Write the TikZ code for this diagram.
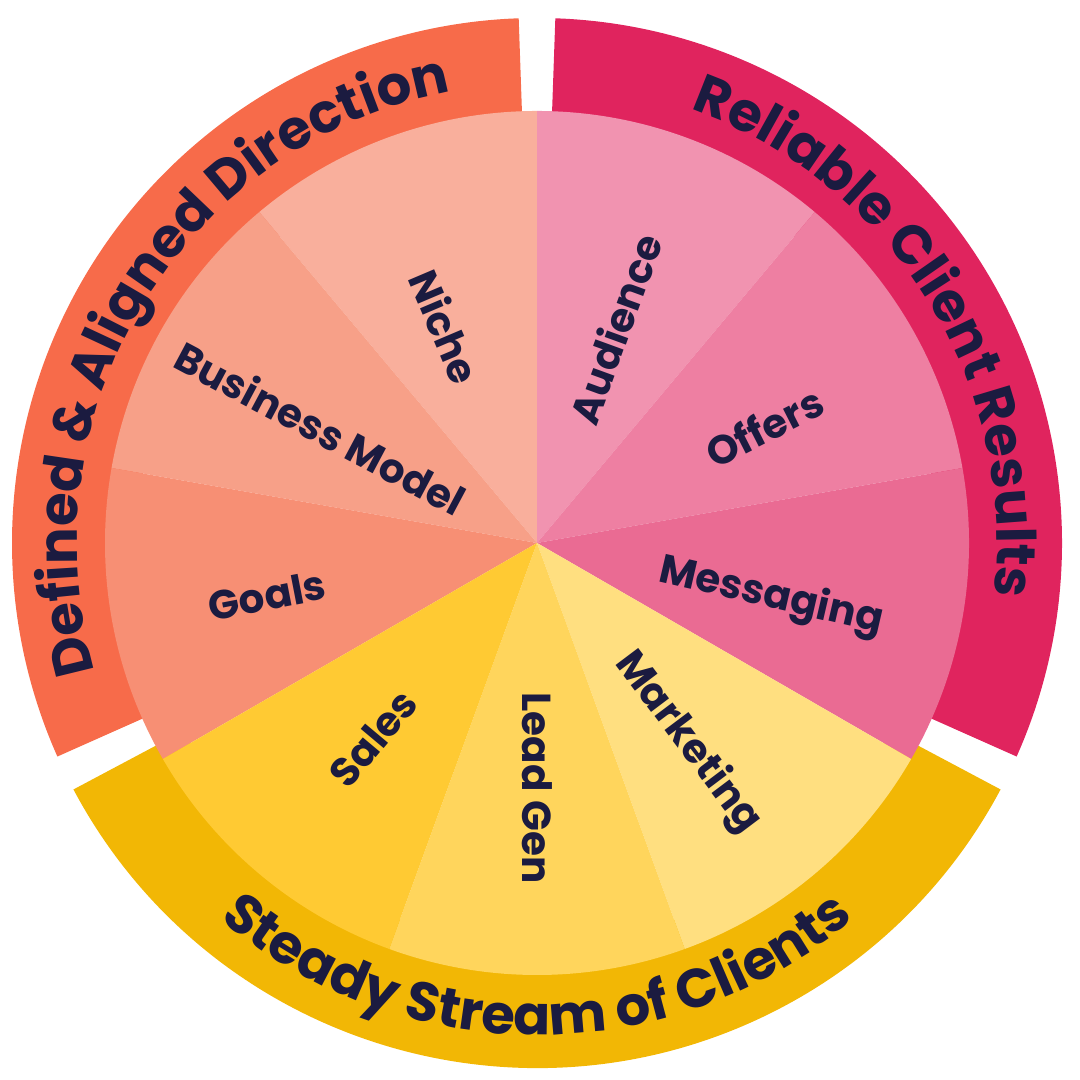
\documentclass[tikz,border=0pt]{standalone}
\usepackage{fontspec}
\setmainfont{Poppins}
\usetikzlibrary{decorations.text}
\definecolor{navy}{HTML}{1B1B40}
\definecolor{ringO}{HTML}{F76B4A}
\definecolor{ringP}{HTML}{E0245E}
\definecolor{ringY}{HTML}{F2B705}
\definecolor{secNiche}{HTML}{F9AF9C}
\definecolor{secModel}{HTML}{F7A088}
\definecolor{secGoals}{HTML}{F78F74}
\definecolor{secAudience}{HTML}{F193B0}
\definecolor{secOffers}{HTML}{EE7FA2}
\definecolor{secMessaging}{HTML}{EA6B93}
\definecolor{secMarketing}{HTML}{FFDF80}
\definecolor{secLeadgen}{HTML}{FFD55C}
\definecolor{secSales}{HTML}{FFCA33}
\tikzset{
  seclabel/.style={text=navy,font=\bfseries\fontsize{11.5}{11.5}\selectfont},
  ringtext/.style={decorate,decoration={text along path,text align=center,
     text={|\bfseries\fontsize{15.5}{15.5}\selectfont\color{navy}|#1}}}
}
\newcommand{\ringpart}[3]{% colour, start, end
  \fill[#1] (#2:400) arc[start angle=#2,end angle=#3,radius=400]
    -- (#3:525) arc[start angle=#3,end angle=#2,radius=525] -- cycle;}
\newcommand{\sector}[3]{% colour, start, end
  \fill[#1] (0,0) -- (#2:432) arc[start angle=#2,end angle=#3,radius=432] -- cycle;}
\begin{document}
\begin{tikzpicture}[x=0.01cm,y=0.01cm]
  \useasboundingbox (0,0) rectangle (1080,1080);
  \begin{scope}[shift={(537,537)}]
    % outer rings
    \ringpart{ringO}{92}{204}
    \ringpart{ringP}{88}{-24}
    \ringpart{ringY}{-28}{-152}
    % wheel
    \sector{secNiche}{90}{130}
    \sector{secModel}{130}{170}
    \sector{secGoals}{170}{210}
    \sector{secAudience}{50}{90}
    \sector{secOffers}{10}{50}
    \sector{secMessaging}{-30}{10}
    \sector{secMarketing}{-70}{-30}
    \sector{secLeadgen}{-110}{-70}
    \sector{secSales}{-150}{-110}
    % sector labels
    \node[seclabel,rotate=-67] (niche) at (113:235) {Niche};
    \node[seclabel,rotate=-28] (model) at (152:245) {Business Model};
    \node[seclabel,rotate=11] (goals) at (191:275) {Goals};
    \node[seclabel,rotate=70] (audience) at (70:228) {Audience};
    \node[seclabel,rotate=27] (offers) at (27:255) {Offers};
    \node[seclabel,rotate=-13] (messaging) at (-13:240) {Messaging};
    \node[seclabel,rotate=-53] (marketing) at (-53:250) {Marketing};
    \node[seclabel,rotate=-90] (leadgen) at (-90:245) {Lead Gen};
    \node[seclabel,rotate=50] (sales) at (230:255) {Sales};
    % ring labels
    \path[ringtext={Defined {\&} Aligned Direction}]
      (205:460) arc[start angle=205,end angle=92,radius=460];
    \path[ringtext={Reliable Client Results}]
      (88:460) arc[start angle=88,end angle=-24,radius=460];
    \path[ringtext={Steady Stream of Clients}]
      (-150:492) arc[start angle=-150,end angle=-30,radius=492];
  \end{scope}
\end{tikzpicture}
\end{document}
